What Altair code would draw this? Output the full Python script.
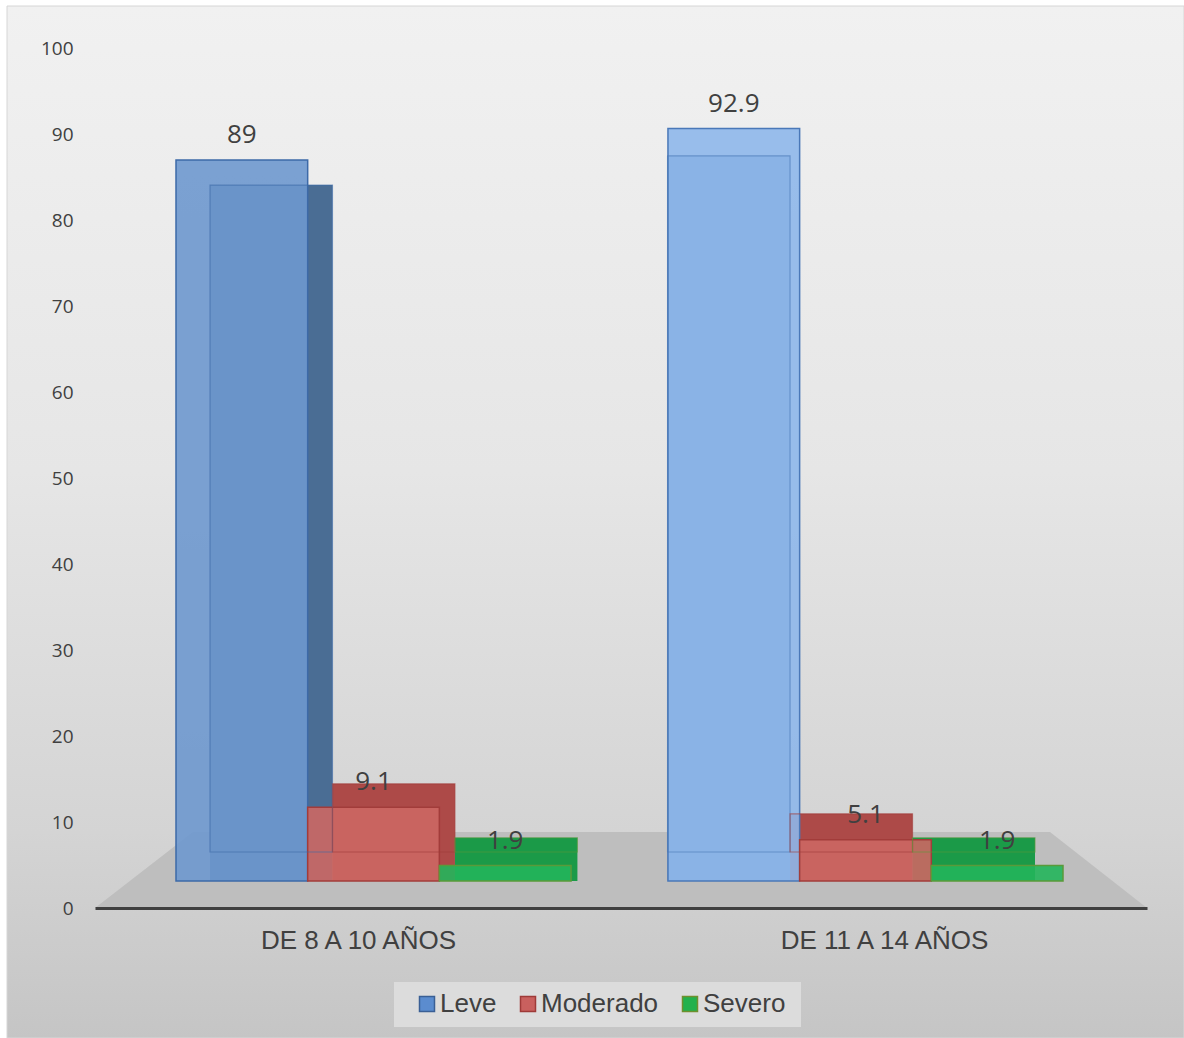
import altair as alt
import pandas as pd

# Data: share of children per severity level, by age group
grupos = ["DE 8 A 10 AÑOS", "DE 11 A 14 AÑOS"]
series = ["Leve", "Moderado", "Severo"]
leve = [89, 92.9]
moderado = [9.1, 5.1]
severo = [1.9, 1.9]
ticks_y = list(range(0, 101, 10))

rows = []
for i, g in enumerate(grupos):
    for s, vals in zip(series, [leve, moderado, severo]):
        rows.append({"Grupo": g, "Serie": s, "Valor": vals[i], "Clave": f"{s} | {g}"})
df = pd.DataFrame(rows)
claves = list(df["Clave"])

# Styling
W, H = 1052, 860
TXT = "#404040"
SANS = "Liberation Sans"
NUM = "Open Sans"

front_fill = ["#6e98ce", "#cc6763", "#23b55b", "#8eb7ea", "#cc6763", "#23b55b"]
back_fill = ["#4a6d94", "#ad4a48", "#1b9a48", "#648cbe", "#ad4a48", "#1b9a48"]
edge = ["#3d6aa8", "#a23c3a", "#5a9a3a", "#4a78b8", "#a23c3a", "#5a9a3a"]
legend_fill = ["#5b8ccf", "#c9605e", "#22b14c"]
legend_edge = ["#3a5f95", "#9e3a38", "#6f8f2e"]

# Front faces and back faces of the boxes use their own (perspective) scales
front_x = alt.Scale(domain=grupos, range=[81, 968], paddingInner=0.197, paddingOuter=0)
back_x = alt.Scale(domain=grupos, range=[115, 940], paddingInner=0.197, paddingOuter=0)
off = alt.Scale(domain=series, paddingInner=0, paddingOuter=0)
off_band = alt.Scale(type="band", domain=series, paddingInner=0, paddingOuter=0)
front_y = alt.Scale(domain=[0, 100], range=[833, 23])
back_y = alt.Scale(domain=[0, 100], range=[804, 54.6])
FRONT_BASE = 833  # pixel row of the front faces' base inside the plot

one = pd.DataFrame({"k": [0]})

# Layer hidden under the background that carries the axes and the legend
axes = alt.Chart(df).mark_square(size=4, opacity=1).encode(
    x=alt.X(
        "Grupo:N",
        sort=grupos,
        scale=alt.Scale(domain=grupos, paddingInner=0, paddingOuter=0),
        axis=alt.Axis(
            title=None, labelAngle=0, ticks=False, grid=False, zindex=2,
            domain=True, domainColor=TXT, domainWidth=3, labelLimit=0,
            labelFont=SANS, labelFontSize=26, labelColor=TXT, labelPadding=19,
        ),
    ),
    y=alt.Y(
        "Valor:Q",
        scale=alt.Scale(domain=[0, 100]),
        axis=alt.Axis(
            title=None, values=ticks_y, ticks=False, grid=False, domain=False, zindex=2,
            labelFont=NUM, labelFontSize=19, labelColor=TXT, labelPadding=22,
        ),
    ),
    color=alt.Color(
        "Serie:N",
        scale=alt.Scale(domain=series, range=legend_fill),
        legend=alt.Legend(
            title=None, orient="none", legendX=319, legendY=943, zindex=2,
            direction="horizontal", symbolType="square", symbolSize=225,
            symbolStrokeWidth=1.5, symbolOpacity=1,
            labelFont=SANS, labelFontSize=26, labelColor=TXT,
            labelOffset=0, columnPadding=18, padding=0,
        ),
    ),
    stroke=alt.Stroke("Serie:N", scale=alt.Scale(domain=series, range=legend_edge), legend=alt.Legend(title=None)),
)

bg = alt.Chart(one).mark_rect(
    color=alt.LinearGradient(
        gradient="linear",
        stops=[
            alt.GradientStop(color="#f1f1f1", offset=0),
            alt.GradientStop(color="#e6e6e6", offset=0.45),
            alt.GradientStop(color="#d4d4d4", offset=0.8),
            alt.GradientStop(color="#c5c5c5", offset=1),
        ],
        x1=0, x2=0, y1=0, y2=1,
    ),
    stroke="#d6d6d6",
    strokeWidth=1,
).encode(x=alt.value(-88), x2=alt.value(1089), y=alt.value(-42), y2=alt.value(990))

# Chart floor (trapezoid)
floor_path = "M -1 0.0722 L 1 0.0722 L 0.8156 -0.0722 L -0.8137 -0.0722 Z"
floor = alt.Chart(one).mark_point(
    shape=floor_path, filled=True, color="#bebebe", opacity=1, strokeWidth=0
).encode(x=alt.value(526), y=alt.value(822), size=alt.value(W * W))

legend_box = alt.Chart(one).mark_rect(color="#dcdcdc").encode(
    x=alt.value(299), x2=alt.value(706), y=alt.value(934), y2=alt.value(979)
)

back_x_enc = alt.X("Grupo:N", sort=grupos, scale=back_x, axis=None)
back_off_enc = alt.XOffset("Serie:N", sort=series, scale=off)

# Back faces: filled down to the front base, so the top and side faces show
back = alt.Chart(df).mark_bar(strokeWidth=0).encode(
    x=back_x_enc,
    xOffset=back_off_enc,
    y=alt.Y("Valor:Q", scale=back_y, axis=None, stack=False),
    y2=alt.value(FRONT_BASE),
    color=alt.Color("Clave:N", scale=alt.Scale(domain=claves, range=back_fill), legend=None),
)

front = alt.Chart(df).mark_bar(strokeWidth=1.5, fillOpacity=0.9).encode(
    x=alt.X("Grupo:N", sort=grupos, scale=front_x, axis=None),
    xOffset=alt.XOffset("Serie:N", sort=series, scale=off),
    y=alt.Y("Valor:Q", scale=front_y, axis=None, stack=False),
    color=alt.Color("Clave:N", scale=alt.Scale(domain=claves, range=front_fill), legend=None),
    stroke=alt.Stroke("Clave:N", scale=alt.Scale(domain=claves, range=edge), legend=None),
)

# Back-face edges seen through the translucent front faces
back_edges = alt.Chart(df).mark_bar(fillOpacity=0, strokeWidth=1.2, strokeOpacity=0.6).encode(
    x=back_x_enc,
    xOffset=back_off_enc,
    y=alt.Y("Valor:Q", scale=back_y, axis=None, stack=False),
    stroke=alt.Stroke("Clave:N", scale=alt.Scale(domain=claves, range=edge), legend=None),
)

labels = alt.Chart(df).mark_text(
    dy=-17, baseline="alphabetic", font=NUM, fontSize=26, color=TXT
).encode(
    x=alt.X("Grupo:N", sort=grupos, scale=front_x, axis=None),
    xOffset=alt.XOffset("Serie:N", sort=series, scale=off_band),
    y=alt.Y("Valor:Q", scale=front_y, axis=None),
    text=alt.Text("Valor:Q", format=".1~f"),
)

chart = (
    alt.layer(axes, bg, floor, legend_box, back, front, back_edges, labels)
    .resolve_scale(
        x="independent", y="independent", xOffset="independent",
        color="independent", stroke="independent",
    )
    .properties(
        width=W,
        height=H,
        autosize=alt.AutoSizeParams(type="none"),
        padding={"left": 95, "top": 48, "right": 37, "bottom": 130},
        background="white",
    )
    .configure_view(strokeOpacity=0)
)

chart.save("out.html", embed_options={"renderer": "svg", "actions": False})
